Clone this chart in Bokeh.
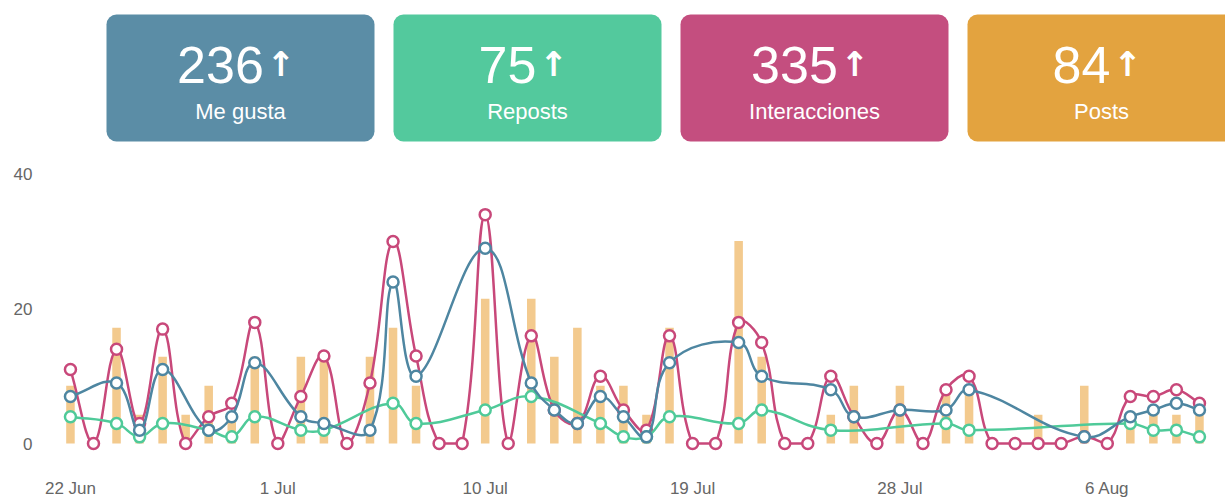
import math
from datetime import datetime, timedelta

from bokeh.plotting import figure
from bokeh.layouts import column
from bokeh.models import Range1d, FixedTicker, ColumnDataSource
from bokeh.core.properties import value
from bokeh.embed import file_html
from bokeh.resources import INLINE

# ---------------- data ----------------
first_day = "2024-06-22"
likes = [7, None, 9, 2, 11, None, 2, 4, 12, None,
         4, 3, None, 2, 24, 10, None, None, 29, None,
         9, 5, 3, 7, 4, 1, 12, None, None, 15,
         10, None, None, 8, 4, None, 5, None, 5, 8,
         None, None, None, None, 1, None, 4, 5, 6, 5]
reposts = [4, None, 3, 1, 3, None, 2, 1, 4, None,
           2, 2, None, None, 6, 3, None, None, 5, None,
           7, None, None, 3, 1, 1, 4, None, None, 3,
           5, None, None, 2, None, None, None, None, 3, 2,
           None, None, None, None, None, None, 3, 2, 2, 1]
interactions = [11, 0, 14, 3, 17, 0, 4, 6, 18, 0,
                7, 13, 0, 9, 30, 13, 0, 0, 34, 0,
                16, 5, 3, 10, 5, 2, 16, 0, 0, 18,
                15, 0, 0, 10, 4, 0, 5, 0, 8, 10,
                0, 0, 0, 0, 1, 0, 7, 7, 8, 6]
posts = [2, 0, 4, 1, 3, 1, 2, 1, 3, 0,
         3, 3, 0, 3, 4, 2, 0, 0, 5, 0,
         5, 3, 4, 2, 2, 1, 4, 0, 0, 7,
         3, 0, 0, 1, 2, 0, 2, 0, 2, 2,
         0, 0, 1, 0, 2, 0, 1, 1, 1, 1]
y_ticks = [0, 20, 40]
tick_every_days = 9
card_titles = ["Me gusta", "Reposts", "Interacciones", "Posts"]

# ---------------- styles ----------------
card_colors = ["#5B8DA6", "#53C99D", "#C44E7F", "#E3A33F"]
c_likes, c_reposts, c_inter = "#4E86A1", "#4FCA99", "#C8487A"
bar_color = "#F3CA8E"
FONT = "Liberation Sans"
W = 1225
TOP_H = 152
CH_H = 348
B_LEFT, B_RIGHT, B_TOP, B_BOTTOM = 40, 0, 8, 45
Y_START, Y_END = -1.47, 42.04
PAD_L_DAYS, PAD_R_DAYS = 1.30, 1.13
UNITS_PER_POST = 4.3
TENSION = 0.4
NUM_PX = 52
DIGIT_EM = 0.556

DAY = 86400000.0
d0 = datetime.strptime(first_day, "%Y-%m-%d")
n = len(interactions)
dates = [d0 + timedelta(days=i) for i in range(n)]
epoch = datetime(1970, 1, 1)
xs = [(d - epoch).total_seconds() * 1000.0 for d in dates]

x_start = xs[0] - PAD_L_DAYS * DAY
x_end = xs[-1] + PAD_R_DAYS * DAY
frame_w = W - B_LEFT - B_RIGHT
frame_h = CH_H - B_TOP - B_BOTTOM
px_per_ms = frame_w / (x_end - x_start)
px_per_unit = frame_h / (Y_END - Y_START)


def spline(xv, yv, ymin=0.0, ymax=40.0):
    """Chart.js-like tension curve (computed in pixel space), returns bezier segments in data units."""
    pts = [(x, y) for x, y in zip(xv, yv) if y is not None]
    P = [((x - x_start) * px_per_ms, y * px_per_unit) for x, y in pts]
    prev_cp, next_cp = [], []
    lo, hi = ymin * px_per_unit, ymax * px_per_unit
    for k, cur in enumerate(P):
        pr = P[k - 1] if k > 0 else cur
        nx = P[k + 1] if k < len(P) - 1 else cur
        d01 = math.hypot(cur[0] - pr[0], cur[1] - pr[1])
        d12 = math.hypot(nx[0] - cur[0], nx[1] - cur[1])
        s = d01 + d12
        s01 = d01 / s if s else 0.0
        s12 = d12 / s if s else 0.0
        fa, fb = TENSION * s01, TENSION * s12
        a = (cur[0] - fa * (nx[0] - pr[0]), min(max(cur[1] - fa * (nx[1] - pr[1]), lo), hi))
        b = (cur[0] + fb * (nx[0] - pr[0]), min(max(cur[1] + fb * (nx[1] - pr[1]), lo), hi))
        prev_cp.append(a)
        next_cp.append(b)

    def back(q):
        return (q[0] / px_per_ms + x_start, q[1] / px_per_unit)

    seg = dict(x0=[], y0=[], x1=[], y1=[], cx0=[], cy0=[], cx1=[], cy1=[])
    for k in range(len(P) - 1):
        p0, p1 = back(P[k]), back(P[k + 1])
        c0, c1 = back(next_cp[k]), back(prev_cp[k + 1])
        seg["x0"].append(p0[0]); seg["y0"].append(p0[1])
        seg["x1"].append(p1[0]); seg["y1"].append(p1[1])
        seg["cx0"].append(c0[0]); seg["cy0"].append(c0[1])
        seg["cx1"].append(c1[0]); seg["cy1"].append(c1[1])
    pts_src = dict(x=[q[0] for q in pts], y=[q[1] for q in pts])
    return seg, pts_src


# ---------------- cards figure ----------------
top = figure(width=W, height=TOP_H, x_range=Range1d(B_LEFT, W), y_range=Range1d(TOP_H, 0),
             output_backend="svg", toolbar_location=None,
             min_border_left=B_LEFT, min_border_right=B_RIGHT, min_border_top=0, min_border_bottom=0)
top.axis.visible = False
top.grid.visible = False
top.outline_line_color = None

totals = [sum(v for v in likes if v), sum(v for v in reposts if v), sum(interactions), sum(posts)]
card_left0, card_pitch, card_w = 106, 287, 268
lefts = [card_left0 + i * card_pitch for i in range(4)]
rights = [l + card_w for l in lefts]
cxs = [l + card_w / 2 for l in lefts]
num_right = [c + len(str(t)) * DIGIT_EM * NUM_PX / 2 - 20 for c, t in zip(cxs, totals)]
top.quad(left=lefts, right=rights, top=[14] * 4, bottom=[141] * 4,
         fill_color=card_colors, line_color=None, border_radius=10)
top.text(x=num_right, y=[64] * 4, text=[str(t) for t in totals],
         text_font=value(FONT), text_font_size=f"{NUM_PX}px", text_color="white",
         text_align="right", text_baseline="middle")
top.text(x=[r + 3 for r in num_right], y=[63] * 4, text=["\u2191"] * 4,
         text_font=value("DejaVu Sans"), text_font_size="34px", text_font_style="bold",
         text_color="white", text_align="left", text_baseline="middle")
top.text(x=cxs, y=[111] * 4, text=card_titles,
         text_font=value(FONT), text_font_size="22px", text_color="white",
         text_align="center", text_baseline="middle")

# ---------------- chart figure ----------------
p = figure(width=W, height=CH_H, x_axis_type="datetime",
           x_range=Range1d(x_start, x_end), y_range=Range1d(Y_START, Y_END),
           output_backend="svg", toolbar_location=None,
           min_border_left=B_LEFT, min_border_right=B_RIGHT,
           min_border_top=B_TOP, min_border_bottom=B_BOTTOM)
p.extra_y_ranges = {"posts": Range1d(Y_START / UNITS_PER_POST, Y_END / UNITS_PER_POST)}
p.grid.visible = False
p.outline_line_color = None
for ax in (p.xaxis[0], p.yaxis[0]):
    ax.axis_line_color = None
    ax.major_tick_line_color = None
    ax.minor_tick_line_color = None
    ax.major_tick_out = 0
    ax.major_tick_in = 0
    ax.minor_tick_out = 0
    ax.major_label_text_font = FONT
    ax.major_label_text_font_size = "17px"
    ax.major_label_text_color = "#666666"
p.yaxis.ticker = FixedTicker(ticks=y_ticks)
p.yaxis.major_label_standoff = 8
tick_idx = list(range(0, n, tick_every_days))
p.xaxis.ticker = FixedTicker(ticks=[xs[i] for i in tick_idx])
p.xaxis.major_label_overrides = {xs[i]: f"{dates[i].day} {dates[i].strftime('%b')}" for i in tick_idx}
p.xaxis.major_label_standoff = 25

bar_src = ColumnDataSource(dict(x=xs, top=posts))
p.vbar(x="x", top="top", bottom=0, width=0.37 * DAY, source=bar_src,
       fill_color=bar_color, line_color=None, y_range_name="posts")

for series, col in ((interactions, c_inter), (reposts, c_reposts), (likes, c_likes)):
    seg, pts = spline(xs, series)
    p.bezier(source=ColumnDataSource(seg), x0="x0", y0="y0", x1="x1", y1="y1",
             cx0="cx0", cy0="cy0", cx1="cx1", cy1="cy1", line_color=col, line_width=2.5)
    p.scatter(source=ColumnDataSource(pts), x="x", y="y", size=11, fill_color="white",
              line_color=col, line_width=2.5)

layout = column(top, p, spacing=0)
open("out.html", "w").write(file_html(layout, INLINE))
